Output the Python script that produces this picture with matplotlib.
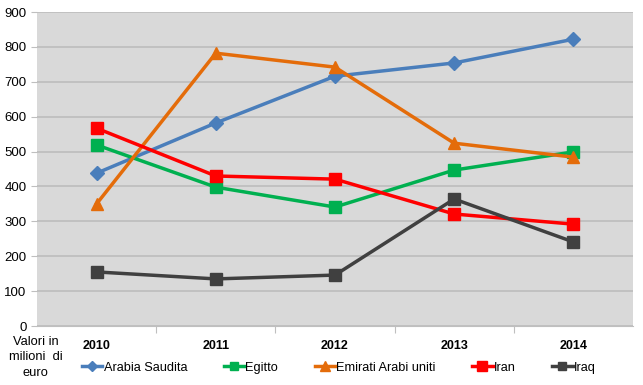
import matplotlib
matplotlib.use("Agg")
import matplotlib.pyplot as plt

years = ["2010", "2011", "2012", "2013", "2014"]
arabia = [438, 582, 716, 754, 822]
egitto = [519, 398, 341, 447, 499]
emirati = [350, 782, 742, 524, 484]
iran = [567, 430, 421, 321, 292]
iraq = [155, 135, 146, 364, 241]

series = [
    ("Arabia Saudita", arabia, "#4A7EBB", "D", 7),
    ("Egitto", egitto, "#00B050", "s", 8),
    ("Emirati Arabi uniti", emirati, "#E46C0A", "^", 9),
    ("Iran", iran, "#FF0000", "s", 9),
    ("Iraq", iraq, "#404040", "s", 8),
]

plt.rcParams['font.family'] = ['Liberation Sans', 'DejaVu Sans']
fig = plt.figure(figsize=(6.43, 3.85), dpi=100)
ax = fig.add_axes([0.0575, 0.1532, 0.9269, 0.8156])
ax.set_facecolor("#D9D9D9")

x = list(range(len(years)))
for name, vals, col, mk, ms in series:
    ax.plot(x, vals, color=col, lw=2.5, marker=mk, markersize=ms,
            markerfacecolor=col, markeredgecolor=col, label=name, zorder=3)

ax.set_xlim(-0.5, len(years) - 0.5)
ax.set_ylim(0, 900)
ax.set_yticks(range(0, 901, 100))
ax.yaxis.grid(True, color="#BDBDBD", lw=1.2)
ax.set_axisbelow(True)
ax.set_xticks([i + 0.5 for i in range(len(years) - 1)])
ax.set_xticklabels([])
ax.tick_params(axis='x', length=5, color="#BFBFBF")
ax.tick_params(axis='y', length=4, color="#BFBFBF", labelsize=9.5)
for i, y in enumerate(years):
    ax.text(i, -0.045, y, transform=ax.get_xaxis_transform(), ha='center', va='top',
            fontsize=9, fontweight='bold')
for s in ["top", "right"]:
    ax.spines[s].set_visible(False)
ax.spines["left"].set_visible(False)
ax.spines["bottom"].set_color("#BFBFBF")

fig.text(0.055, 0.128, "Valori in\nmilioni  di\neuro", ha='center', va='top', fontsize=9.3,
         linespacing=1.4)

fig.legend(loc='center', bbox_to_anchor=(0.527, 0.045), ncol=5, frameon=False,
           fontsize=9.2, handlelength=1.6, handletextpad=0.1, columnspacing=2.85,
           markerscale=0.8)

fig.savefig("out.png", dpi=100)
